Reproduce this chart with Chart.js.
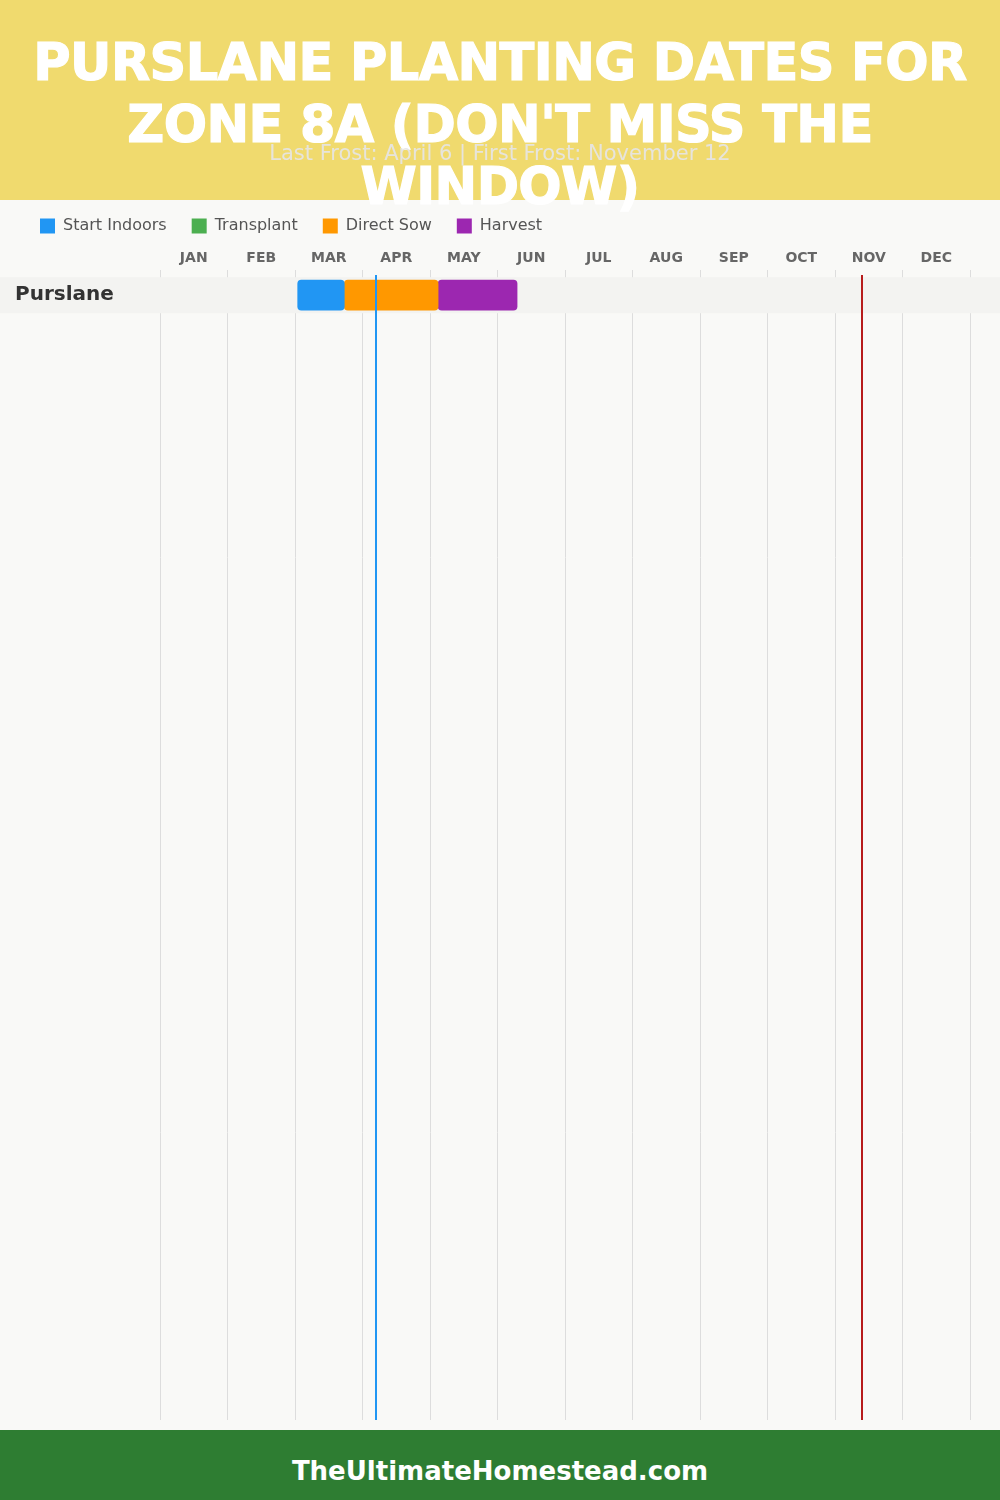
<!DOCTYPE html>
<html>
<head>
<meta charset="utf-8">
<script src="https://cdn.jsdelivr.net/npm/chart.js@4.4.1/dist/chart.umd.min.js"></script>
<style>
  html, body { margin: 0; padding: 0; }
  body { width: 1000px; height: 1500px; background: #f9f9f7; position: relative; overflow: hidden; font-family: "DejaVu Sans", sans-serif; }
  #header { position: absolute; left: 0; top: 0; width: 1000px; height: 200px; background: #f0da6e; z-index: 2; overflow: visible; }
  #title { position: absolute; left: 0; top: 32px; width: 1000px; text-align: center; color: #fff; font-weight: bold; font-size: 51px; line-height: 62px; white-space: nowrap; letter-spacing: -0.6px; -webkit-text-stroke: 1.2px #fff; }
  #subtitle { position: absolute; left: 0; top: 141px; width: 1000px; text-align: center; color: rgba(230,229,226,0.95); font-size: 21px; font-family: "DejaVu Sans", sans-serif; }
  #wrap { position: absolute; left: 0; top: 193px; width: 1000px; height: 1237px; z-index: 1; }
  #footer { position: absolute; left: 0; top: 1430px; width: 1000px; height: 70px; background: #2e7d32; color: #fff; text-align: center; line-height: 82px; font-weight: bold; font-size: 26px; z-index: 2; }
</style>
</head>
<body>
<div id="header">
  <div id="title">PURSLANE PLANTING DATES FOR<br>ZONE 8A (DON'T MISS THE<br>WINDOW)</div>
  <div id="subtitle">Last Frost: April 6 | First Frost: November 12</div>
</div>
<div id="wrap"><canvas id="myChart"></canvas></div>
<div id="footer">TheUltimateHomestead.com</div>
<script>
// months on the x axis (value = month index + day/30)
const months = ['JAN', 'FEB', 'MAR', 'APR', 'MAY', 'JUN', 'JUL', 'AUG', 'SEP', 'OCT', 'NOV', 'DEC'];
const rowLabels = ['Purslane'];

// [start, end] per row
const startIndoors = [[2.04, 2.73]];
const transplant = [];
const directSow = [[2.73, 4.12]];
const harvest = [[4.12, 5.29]];

const lastFrost = 3.2;   // April 6
const firstFrost = 10.4; // November 12

function toPoints(ranges)
{
    return ranges.map((r, i) => ({x: r, y: i + 0.5}));
}

// light band behind every other row
const rowBands = {
    id: 'rowBands',
    beforeDatasetsDraw(chart)
    {
        const ctx = chart.ctx;
        const y = chart.scales.y;
        ctx.save();
        ctx.fillStyle = '#f3f3f1';
        rowLabels.forEach((lbl, i) =>
        {
            if (i % 2 === 0)
            {
                const top = y.getPixelForValue(i);
                const bottom = y.getPixelForValue(i + 1);
                ctx.fillRect(0, top, chart.width, bottom - top);
            }
        });
        ctx.restore();
    }
};

// last / first frost markers
const frostLines = {
    id: 'frostLines',
    afterDatasetsDraw(chart)
    {
        const ctx = chart.ctx;
        const x = chart.scales.x;
        const area = chart.chartArea;
        ctx.save();
        ctx.lineWidth = 2;
        [[lastFrost, '#2196f3'], [firstFrost, '#b71c1c']].forEach(([v, c]) =>
        {
            const px = Math.round(x.getPixelForValue(v));
            ctx.strokeStyle = c;
            ctx.beginPath();
            ctx.moveTo(px, area.top + 5);
            ctx.lineTo(px, area.bottom);
            ctx.stroke();
        });
        ctx.restore();
    }
};

const ctx = document.getElementById('myChart').getContext('2d');
const myChart = new Chart(ctx, {
    type: 'bar',
    data: {
        datasets: [
            {label: 'Start Indoors', data: toPoints(startIndoors), backgroundColor: '#2196f3'},
            {label: 'Transplant', data: toPoints(transplant), backgroundColor: '#4caf50'},
            {label: 'Direct Sow', data: toPoints(directSow), backgroundColor: '#ff9800'},
            {label: 'Harvest', data: toPoints(harvest), backgroundColor: '#9c27b0'}
        ]
    },
    options: {
        indexAxis: 'y',
        responsive: true,
        maintainAspectRatio: false,
        animation: false,
        layout: {padding: {left: 15, right: 30, top: 0, bottom: 10}},
        datasets: {
            bar: {barThickness: 30, grouped: false, borderRadius: 4, borderSkipped: false}
        },
        scales: {
            x: {
                type: 'linear', min: 0, max: 12, position: 'bottom',
                afterFit: s => { s.height = 0; },
                ticks: {display: false, stepSize: 1},
                grid: {color: '#dddddd', drawTicks: false, lineWidth: 1},
                border: {display: false}
            },
            x2: {
                type: 'linear', min: 0, max: 12, position: 'top',
                afterBuildTicks: s => { s.ticks = months.map((m, i) => ({value: i + 0.5})); },
                afterFit: s => { s.height = 26; },
                ticks: {
                    autoSkip: false, maxRotation: 0, padding: -5,
                    color: '#666', font: {family: 'DejaVu Sans', weight: 'bold', size: 14},
                    callback: (v, i) => months[i]
                },
                grid: {display: false},
                border: {display: false}
            },
            y: {
                type: 'linear', reverse: true, offset: false, min: -0.2, max: 31.74,
                afterBuildTicks: s => { s.ticks = rowLabels.map((r, i) => ({value: i + 0.5})); },
                afterFit: s => { s.width = 145; s.paddingTop = 0; s.paddingBottom = 0; },
                ticks: {
                    crossAlign: 'far', autoSkip: false, z: 1,
                    color: '#333', font: {family: 'DejaVu Sans', weight: 'bold', size: 20},
                    callback: (v, i) => rowLabels[i]
                },
                grid: {display: false},
                border: {display: false}
            }
        },
        plugins: {
            legend: {
                position: 'top', align: 'start',
                labels: {
                    boxWidth: 15, boxHeight: 15, padding: 25,
                    color: '#555', font: {family: 'DejaVu Sans', size: 16}
                }
            },
            tooltip: {enabled: false}
        }
    },
    plugins: [rowBands, frostLines]
});
</script>
</body>
</html>
